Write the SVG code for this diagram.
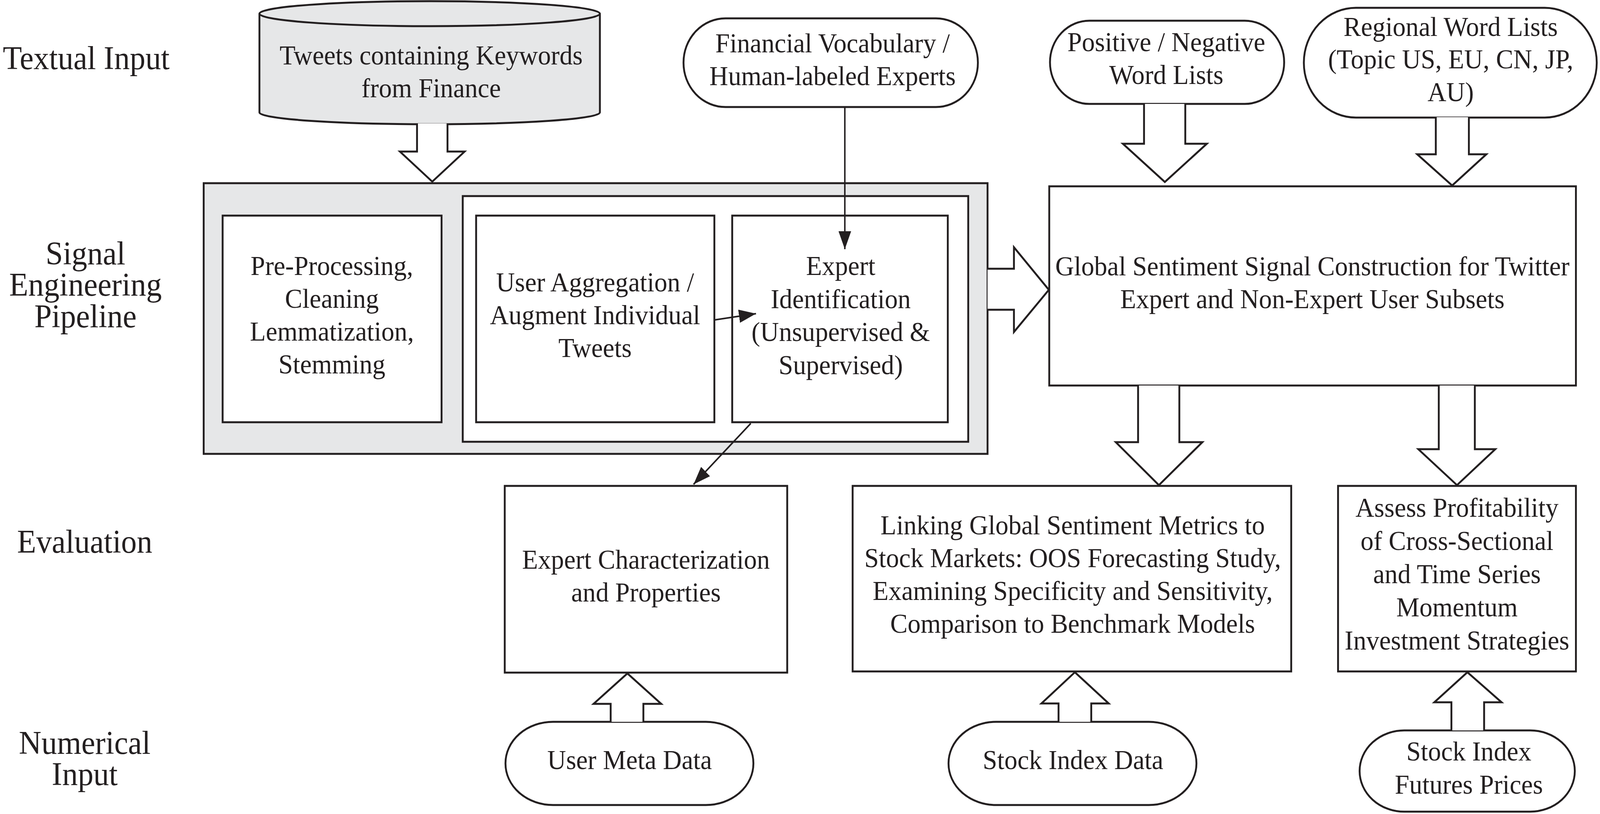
<svg xmlns="http://www.w3.org/2000/svg" width="4303" height="2084" viewBox="0 0 4303 2084">
<style>
.bg{fill:#ffffff}
.box{fill:#ffffff;stroke:#231f20;stroke-width:5}
.grey{fill:#e6e7e8;stroke:#231f20;stroke-width:5}
.harrow{fill:#ffffff;stroke:#231f20;stroke-width:5;stroke-linejoin:miter}
.line{fill:none;stroke:#231f20;stroke-width:4}
.t{font-family:"Liberation Serif","Times New Roman",serif;font-size:70px;fill:#231f20;text-anchor:middle}
.lbl{font-family:"Liberation Serif","Times New Roman",serif;font-size:84px;fill:#231f20;text-anchor:middle}
</style>
<defs>
<marker id="ah" viewBox="0 0 46 34" refX="46" refY="17" markerWidth="46" markerHeight="34" markerUnits="userSpaceOnUse" orient="auto">
<path d="M0,0 L46,17 L0,34 z" fill="#231f20"/>
</marker>
</defs>
<rect class="bg" x="0" y="0" width="4303" height="2084"/>
<g id="diagram" transform="scale(0.9515,1)">

<g id="row-labels">
<text class="lbl" x="232" y="177">Textual Input</text>
<text class="lbl" x="230" y="677">Signal</text>
<text class="lbl" x="230" y="757">Engineering</text>
<text class="lbl" x="230" y="838">Pipeline</text>
<text class="lbl" x="228" y="1415">Evaluation</text>
<text class="lbl" x="228" y="1930">Numerical</text>
<text class="lbl" x="228" y="2010">Input</text>
</g>

<g id="pipeline">
<rect class="grey" x="548" y="469" width="2109" height="693"/>
<rect class="box" x="1245" y="502" width="1360" height="629"/>
</g>

<g id="tweets">
<path class="grey" d="M698,35 V288 A458,30 0 0 0 1614,288 V35"/>
<ellipse class="grey" cx="1156" cy="35" rx="458" ry="32"/>
<text class="t" x="1160" y="165">Tweets containing Keywords</text>
<text class="t" x="1160" y="249">from Finance</text>
</g>

<g id="preprocessing">
<rect class="box" x="599" y="552" width="589" height="529"/>
<text class="t" x="893" y="704">Pre-Processing,</text>
<text class="t" x="893" y="788">Cleaning</text>
<text class="t" x="893" y="872">Lemmatization,</text>
<text class="t" x="893" y="956">Stemming</text>
</g>

<g id="user-aggregation">
<rect class="box" x="1281" y="552" width="641" height="529"/>
<text class="t" x="1601" y="746">User Aggregation /</text>
<text class="t" x="1601" y="830">Augment Individual</text>
<text class="t" x="1601" y="914">Tweets</text>
</g>

<g id="expert-identification">
<rect class="box" x="1970" y="552" width="580" height="529"/>
<text class="t" x="2262" y="704">Expert</text>
<text class="t" x="2262" y="789">Identification</text>
<text class="t" x="2262" y="873">(Unsupervised &amp;</text>
<text class="t" x="2262" y="958">Supervised)</text>
</g>

<g id="financial-vocabulary">
<rect class="box" x="1839" y="47" width="792" height="227" rx="113" ry="113"/>
<text class="t" x="2240" y="134">Financial Vocabulary /</text>
<text class="t" x="2240" y="218">Human-labeled Experts</text>
</g>

<g id="pos-neg">
<rect class="box" x="2825" y="53" width="630" height="213" rx="106" ry="106"/>
<text class="t" x="3138" y="131">Positive / Negative</text>
<text class="t" x="3138" y="215">Word Lists</text>
</g>

<g id="regional">
<rect class="box" x="3508" y="20" width="788" height="281" rx="140" ry="140"/>
<text class="t" x="3903" y="92">Regional Word Lists</text>
<text class="t" x="3903" y="175">(Topic US, EU, CN, JP,</text>
<text class="t" x="3903" y="259">AU)</text>
</g>

<g id="global-sentiment">
<rect class="box" x="2823" y="477" width="1417" height="510"/>
<text class="t" x="3531" y="705">Global Sentiment Signal Construction for Twitter</text>
<text class="t" x="3531" y="789">Expert and Non-Expert User Subsets</text>
</g>

<g id="expert-characterization">
<rect class="box" x="1358" y="1244" width="760" height="478"/>
<text class="t" x="1738" y="1456">Expert Characterization</text>
<text class="t" x="1738" y="1540">and Properties</text>
</g>

<g id="linking">
<rect class="box" x="2294" y="1244" width="1180" height="475"/>
<text class="t" x="2886" y="1368">Linking Global Sentiment Metrics to</text>
<text class="t" x="2886" y="1452">Stock Markets: OOS Forecasting Study,</text>
<text class="t" x="2886" y="1536">Examining Specificity and Sensitivity,</text>
<text class="t" x="2886" y="1620">Comparison to Benchmark Models</text>
</g>

<g id="assess">
<rect class="box" x="3600" y="1244" width="640" height="475"/>
<text class="t" x="3920" y="1323">Assess Profitability</text>
<text class="t" x="3920" y="1408">of Cross-Sectional</text>
<text class="t" x="3920" y="1493">and Time Series</text>
<text class="t" x="3920" y="1578">Momentum</text>
<text class="t" x="3920" y="1663">Investment Strategies</text>
</g>

<g id="user-meta">
<rect class="box" x="1360" y="1848" width="667" height="213" rx="128" ry="106"/>
<text class="t" x="1694" y="1969">User Meta Data</text>
</g>

<g id="stock-index">
<rect class="box" x="2552" y="1848" width="667" height="213" rx="128" ry="106"/>
<text class="t" x="2887" y="1969">Stock Index Data</text>
</g>

<g id="futures">
<rect class="box" x="3658" y="1870" width="579" height="208" rx="120" ry="104"/>
<text class="t" x="3952" y="1947">Stock Index</text>
<text class="t" x="3952" y="2032">Futures Prices</text>
</g>

<g id="connectors">
<path class="harrow" d="M1122,316 V388 H1076 L1163,465 L1250,388 H1204 V316"/>
<path class="harrow" d="M3078,266 V368 H3021 L3134,466 L3247,368 H3189 V266"/>
<path class="harrow" d="M3863,300 V395 H3813 L3907,475 L3999,395 H3952 V300"/>
<path class="harrow" d="M2657,688 H2728 V633 L2822,742 L2728,850 V793 H2657"/>
<path class="harrow" d="M3062,987 V1132 H3002 L3118,1242 L3235,1132 H3173 V987"/>
<path class="harrow" d="M3871,987 V1150 H3816 L3920,1242 L4023,1150 H3968 V987"/>
<path class="harrow" d="M1643,1848 V1802 H1597 L1688,1724 L1779,1802 H1731 V1848"/>
<path class="harrow" d="M2848,1848 V1801 H2802 L2892,1721 L2983,1801 H2936 V1848"/>
<path class="harrow" d="M3905,1870 V1798 H3859 L3948,1721 L4040,1798 H3993 V1870"/>
<path class="line" d="M2273,274 V638" marker-end="url(#ah)"/>
<path class="line" d="M1923,819 L2034,803" marker-end="url(#ah)"/>
<path class="line" d="M2020,1084 L1866,1240" marker-end="url(#ah)"/>
</g>
</g>
</svg>
